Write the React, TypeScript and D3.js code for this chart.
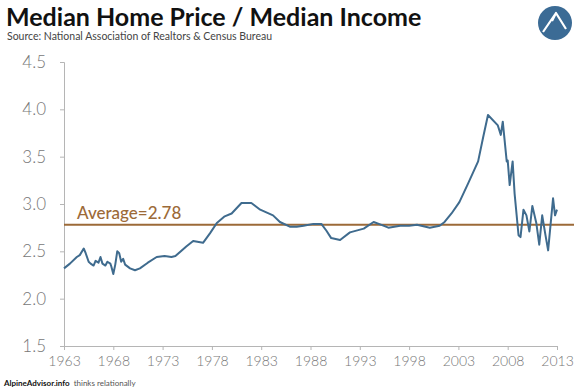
import React, { useRef, useEffect } from "react";
import * as d3 from "d3";

// ratio of median home price to median income
const years = [
  1963.0, 1963.6, 1964.3, 1964.6, 1965.0, 1965.2, 1965.5, 1965.7, 1966.0, 1966.2,
  1966.5, 1966.7, 1966.9, 1967.2, 1967.4, 1967.7, 1967.8, 1968.0, 1968.2, 1968.4,
  1968.6, 1968.8, 1969.0, 1969.2, 1969.7, 1970.2, 1970.7, 1971.5, 1972.4, 1973.2,
  1973.9, 1974.3, 1975.4, 1976.1, 1977.1, 1977.8, 1978.5, 1979.3, 1980.0, 1981.0,
  1982.0, 1982.9, 1984.2, 1984.9, 1985.9, 1986.6, 1987.3, 1988.3, 1989.1, 1989.6,
  1990.1, 1991.0, 1992.0, 1993.4, 1994.4, 1995.2, 1995.9, 1997.1, 1998.0, 1998.8,
  2000.1, 2001.1, 2001.6, 2002.3, 2003.1, 2004.0, 2005.0, 2005.5, 2006.0, 2007.0,
  2007.3, 2007.5, 2007.9, 2008.0, 2008.2, 2008.5, 2008.7, 2009.1, 2009.3, 2009.6,
  2009.9, 2010.2, 2010.5, 2010.9, 2011.2, 2011.5, 2011.8, 2012.1, 2012.6, 2012.8,
  2013.0,
];
const ratios = [
  2.32, 2.37, 2.44, 2.46, 2.53, 2.48, 2.39, 2.37, 2.35, 2.40,
  2.38, 2.44, 2.37, 2.35, 2.39, 2.37, 2.34, 2.26, 2.36, 2.50,
  2.48, 2.39, 2.42, 2.36, 2.32, 2.30, 2.32, 2.38, 2.44, 2.45,
  2.44, 2.45, 2.55, 2.61, 2.59, 2.69, 2.80, 2.87, 2.90, 3.01,
  3.01, 2.94, 2.88, 2.81, 2.76, 2.76, 2.77, 2.79, 2.79, 2.72,
  2.64, 2.62, 2.70, 2.74, 2.81, 2.78, 2.75, 2.77, 2.77, 2.78,
  2.75, 2.77, 2.81, 2.90, 3.02, 3.22, 3.45, 3.70, 3.94, 3.83,
  3.73, 3.87, 3.45, 3.46, 3.20, 3.45, 3.11, 2.67, 2.65, 2.94,
  2.88, 2.71, 2.98, 2.80, 2.57, 2.88, 2.69, 2.51, 3.06, 2.88,
  2.94,
];
const average = 2.78;
const xTicks = [1963, 1968, 1973, 1978, 1983, 1988, 1993, 1998, 2003, 2008, 2013];
const yTicks = [1.5, 2.0, 2.5, 3.0, 3.5, 4.0, 4.5];

export default function App() {
  const svgRef = useRef<SVGSVGElement>(null);

  useEffect(() => {
    const width = 580;
    const height = 390;
    const svg = d3.select(svgRef.current);
    svg.selectAll("*").remove();
    svg.attr("width", width).attr("height", height);

    const font = "Lato, 'Open Sans', sans-serif";
    const x = d3.scaleLinear().domain([1963, 2013]).range([64, 557]);
    const y = d3.scaleLinear().domain([1.5, 4.5]).range([346, 62]);

    svg.append("rect").attr("width", width).attr("height", height).attr("fill", "#fff");

    // title block
    svg.append("text")
      .attr("x", 6).attr("y", 26)
      .style("font-family", font).style("font-size", "25px").style("font-weight", 700)
      .attr("fill", "#111")
      .text("Median Home Price / Median Income");
    svg.append("text")
      .attr("x", 7).attr("y", 40)
      .style("font-family", font).style("font-size", "10.5px")
      .attr("fill", "#444")
      .text("Source: National Association of Realtors & Census Bureau");

    // logo
    const logo = svg.append("g").attr("transform", "translate(555,23)");
    logo.append("circle").attr("r", 17).attr("fill", "#3b6b95");
    logo.append("path")
      .attr("d", "M-12,9 L1,-10 L11,6 M1,-10 L-3,-2")
      .attr("fill", "none").attr("stroke", "#fff").attr("stroke-width", 2.2)
      .attr("stroke-linejoin", "round");

    // axes
    const axisColor = "#b5b5b5";
    const yAxis = svg.append("g")
      .attr("transform", "translate(64,0)")
      .call(d3.axisLeft(y).tickValues(yTicks).tickSize(4).tickPadding(14).tickFormat(d3.format(".1f")));
    yAxis.select(".domain").attr("stroke", axisColor);
    yAxis.selectAll(".tick line").attr("stroke", axisColor);
    yAxis.selectAll(".tick text")
      .style("font-family", font).style("font-size", "17px").style("font-weight", 300)
      .attr("fill", "#777");

    const xAxis = svg.append("g")
      .attr("transform", "translate(0,346)")
      .call(d3.axisBottom(x).tickValues(xTicks).tickSize(4).tickPadding(6).tickFormat(d3.format("d")));
    xAxis.select(".domain").attr("stroke", axisColor);
    xAxis.selectAll(".tick line").attr("stroke", axisColor);
    xAxis.selectAll(".tick text")
      .style("font-family", font).style("font-size", "14px").style("font-weight", 300)
      .attr("fill", "#777");

    // average line
    const avgColor = "#9c6a38";
    svg.append("line")
      .attr("x1", 64).attr("x2", 574)
      .attr("y1", y(average)).attr("y2", y(average))
      .attr("stroke", avgColor).attr("stroke-width", 2);
    svg.append("text")
      .attr("x", 77).attr("y", y(average) - 6)
      .style("font-family", font).style("font-size", "17px").style("font-weight", 500)
      .attr("fill", avgColor)
      .text(`Average=${average}`);

    // series
    const points = years.map((yr, i) => [yr, ratios[i]] as [number, number]);
    const line = d3.line<[number, number]>()
      .x((d) => x(d[0]))
      .y((d) => y(d[1]));
    svg.append("path")
      .datum(points)
      .attr("d", line)
      .attr("fill", "none")
      .attr("stroke", "#3f6b8e")
      .attr("stroke-width", 2)
      .attr("stroke-linejoin", "round");

    // footer
    const foot = svg.append("text")
      .attr("x", 4).attr("y", 386)
      .style("font-family", font).style("font-size", "8px");
    foot.append("tspan").style("font-weight", 700).attr("fill", "#111").text("AlpineAdvisor.info");
    foot.append("tspan").attr("dx", 4).attr("fill", "#555").text("thinks relationally");
  }, []);

  return <svg ref={svgRef} style={{ position: "absolute", left: 0, top: 0 }}></svg>;
}
